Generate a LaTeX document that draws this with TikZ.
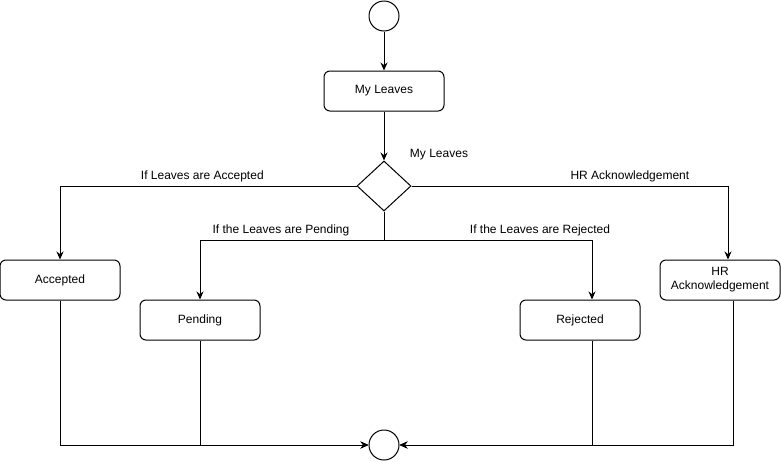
\documentclass[tikz,border=0pt]{standalone}
\usepackage{fontspec}
\setmainfont{Liberation Sans}
\usetikzlibrary{positioning,shapes.geometric,arrows.meta}

\begin{document}
\begin{tikzpicture}[x=1pt,y=-1pt,line width=1pt,>={Stealth[length=8pt,width=7pt]},
        font=\fontsize{12}{14}\selectfont,
        statenode/.style={rectangle, rounded corners=6pt, draw=black, minimum width=120pt, minimum height=40pt, align=center},
        endnode/.style={circle, draw=black, minimum size=30pt, inner sep=0pt},
        decisionnode/.style={diamond, draw=black, minimum width=54pt, minimum height=50pt, inner sep=0pt},
        edgelabel/.style={above=2.5pt, inner sep=1pt}]
        \useasboundingbox (0,0) rectangle (781,461);
        \node[endnode] (start) at (384,16) {};
        \node[statenode] (myleaves) [below=39pt of start] {My Leaves};
        \node[decisionnode] (decision) [below=49pt of myleaves] {};
        \node (decisionlabel) at (439,155) {My Leaves};
        \coordinate (split) at (384,240);
        \node[statenode] (accepted) at (60,280) {Accepted};
        \node[statenode] (pending) at (200,320) {Pending};
        \node[statenode] (rejected) at (580,320) {Rejected};
        \node[statenode] (hrack) at (720,280) {HR\\Acknowledgement};
        \node[endnode] (end) at (384,445) {};
        \draw[->] (start) -- (myleaves);
        \draw[->] (myleaves) -- (decision);
        \draw[->] (decision.west) -| node[edgelabel, pos=0.26] {If Leaves are Accepted} (accepted.north);
        \draw[->] (decision.east) -| node[edgelabel, pos=0.345] {HR Acknowledgement} ([xshift=8pt]hrack.north);
        \draw (decision.south) -- (split);
        \draw[->] (split) -| node[edgelabel, pos=0.28] {If the Leaves are Pending} (pending.north);
        \draw[->] (split) -| node[edgelabel, pos=0.375] {If the Leaves are Rejected} ([xshift=12pt]rejected.north);
        \draw[->] (accepted.south) |- (end.west);
        \draw[->] (pending.south) |- (end.west);
        \draw[->] ([xshift=12pt]rejected.south) |- (end.east);
        \draw[->] ([xshift=13pt]hrack.south) |- (end.east);
\end{tikzpicture}
\end{document}
